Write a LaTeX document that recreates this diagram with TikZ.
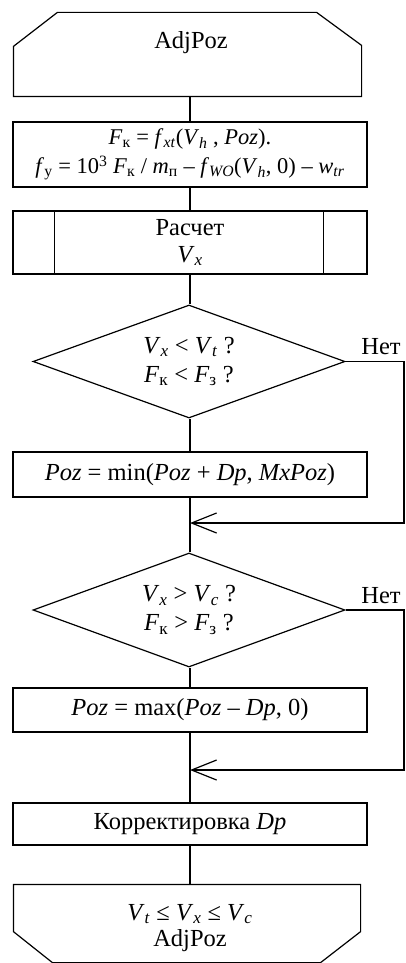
\documentclass[tikz,border=0pt]{standalone}
\usepackage{fontspec}
\setmainfont{Liberation Serif}
\usetikzlibrary{shapes.geometric,arrows.meta}
\newcommand\vi[1]{\textit{#1}}
\newcommand\sbs[1]{\textsubscript{#1}}
\begin{document}
\begin{tikzpicture}[x=1pt,y=-1pt, line width=1.2pt,
  every node/.style={font=\fontsize{24.5}{29}\selectfont, inner sep=0pt},
  proc/.style={draw, rectangle, minimum width=354pt, align=center},
  dec/.style={draw, diamond, aspect=2.76, minimum width=312pt, minimum height=113pt, align=center},
  term/.style={rectangle, minimum width=347pt},
  arr/.style={-{Straight Barb[length=25pt,width=20pt]}}]
\useasboundingbox (0,0) rectangle (406,963);
% top terminator
\node[term, minimum height=83pt] (start) at (187.5,54.5) {};
\draw ([xshift=44pt]start.north west) -- ([xshift=-45pt]start.north east)
  -- ([yshift=-33pt]start.north east) -- (start.south east) -- (start.south west)
  -- ([yshift=-34pt]start.north west) -- cycle;
\node (starttext) at (191,43) {AdjPoz};
% process boxes
\node[proc, minimum height=65pt, font=\fontsize{22.5}{29}\selectfont] (calc) at (190,154.5)
  {\vi{F}\sbs{к} = \vi{f}\sbs{\vi{xt}}(\vi{V}\sbs{\vi{h}} , \vi{Poz}).\\
   \vi{f}\sbs{у} = 10\textsuperscript{3} \vi{F}\sbs{к} / \vi{m}\sbs{п} – \vi{f}\sbs{\vi{WO}}(\vi{V}\sbs{\vi{h}}, 0) – \vi{w}\sbs{\vi{tr}}};
\node[proc, minimum height=63pt] (pred) at (190,242.5) {Расчет\\[-2pt]\vi{V}\sbs{\vi{x}}};
\draw ([xshift=42pt]pred.north west) -- ([xshift=42pt]pred.south west);
\draw ([xshift=-44pt]pred.north east) -- ([xshift=-44pt]pred.south east);
\node[dec] (d1) at (189,361.5) {\vi{V}\sbs{\vi{x}} < \vi{V}\sbs{\vi{t}} ?\\\vi{F}\sbs{к} < \vi{F}\sbs{з} ?};
\node[proc, minimum height=45pt] (pmin) at (190,474.5) {\vi{Poz} = min(\vi{Poz} + \vi{Dp}, \vi{MxPoz})};
\coordinate (j1) at (190,523);
\coordinate (r1) at (404,0);
\node (no1) at (381,347) {Нет};
\node[dec, minimum height=114pt] (d2) at (189,610) {\vi{V}\sbs{\vi{x}} > \vi{V}\sbs{\vi{c}} ?\\\vi{F}\sbs{к} > \vi{F}\sbs{з} ?};
\node[proc, minimum height=44pt] (pmax) at (190,710) {\vi{Poz} = max(\vi{Poz} – \vi{Dp}, 0)};
\coordinate (j2) at (190,770);
\node (no2) at (381,596) {Нет};
\node[proc, minimum height=42pt] (corr) at (190,824) {Корректировка \vi{Dp}};
% bottom terminator
\node[term, minimum width=346pt, minimum height=77pt] (endb) at (187,923.5) {};
\draw (endb.north west) -- (endb.north east) -- ([yshift=31pt]endb.south east)
  -- ([xshift=-40pt]endb.south east) -- ([xshift=39pt]endb.south west)
  -- ([yshift=31pt]endb.south west) -- cycle;
\node (endtext1) at (190,914) {\vi{V}\sbs{\vi{t}} ≤ \vi{V}\sbs{\vi{x}} ≤ \vi{V}\sbs{\vi{c}}};
\node (endtext2) at (190,941) {AdjPoz};
% connectors
\draw (calc.north |- start.south) -- (calc.north);
\draw (calc.south) -- (pred.north);
\draw (pred.south) -- (d1.north -| pred.south);
\draw (d1.south -| pmin.north) -- (pmin.north);
\draw (pmin.south) -- (d2.north -| pmin.south);
\draw (d2.south -| pmax.north) -- (pmax.north);
\draw (pmax.south) -- (corr.north);
\draw (corr.south) -- (endb.north -| corr.south);
\draw[arr] (d1.east) -- (d1.east -| r1) -- (j1 -| r1) -- (j1);
\draw[arr] (d2.east) -- (d2.east -| r1) -- (j2 -| r1) -- (j2);
\end{tikzpicture}
\end{document}
